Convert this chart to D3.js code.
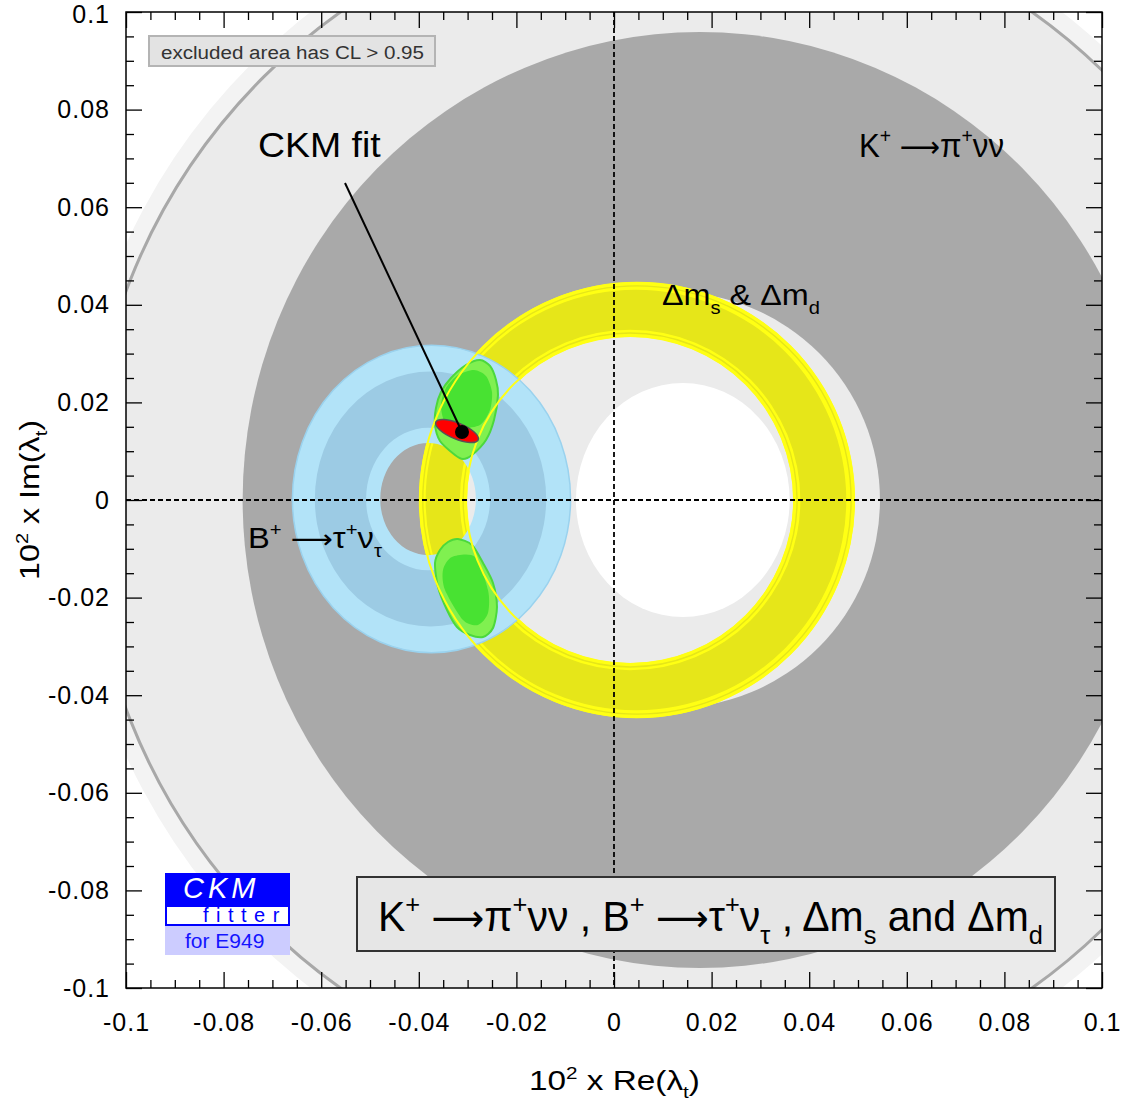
<!DOCTYPE html>
<html><head><meta charset="utf-8">
<script src="https://cdn.jsdelivr.net/npm/d3@7"></script>
<style>
body{margin:0;background:#fff}
svg{display:block}
text{font-family:"Liberation Sans",Arial,Helvetica,sans-serif}
</style>
</head><body>
<svg id="chart" width="1127" height="1106"></svg>
<script>
// ---------------- data (units: 10^2 x lambda_t) ----------------
const majorTicks = [-0.1,-0.08,-0.06,-0.04,-0.02,0,0.02,0.04,0.06,0.08,0.1];
const xTickLabels = ["-0.1","-0.08","-0.06","-0.04","-0.02","0","0.02","0.04","0.06","0.08","0.1"];
const yTickLabels = ["-0.1","-0.08","-0.06","-0.04","-0.02","0","0.02","0.04","0.06","0.08","0.1"];
const minorStep = 0.005;

// K+ -> pi+ nu nu : [Re centre, Im centre, rx, ry]
const kFaintBand   = [0.0148, 0, 0.1262, 0.1262];
const kContour     = [0.0148, 0, 0.1225, 0.1225];
const kAllowed     = [0.0176, 0, 0.0937, 0.0959];
const kInnerHole   = [0.0119, 0, 0.0426, 0.0426];
const kExcluded    = [0.0141, 0, 0.0219, 0.0240];

// Delta m_s & Delta m_d ring : [Re centre, Im centre, r]
const dmOuter95 = [0.0047, 0, 0.0447];
const dmInner95 = [0.0033, 0, 0.0334];
const dmOuter68 = [0.0045, 0, 0.0431];
const dmInner68 = [0.0033, 0, 0.0349];

// B+ -> tau+ nu_tau : [Re centre, Im centre, rx, ry]
const btnOuter     = [-0.0374, 0.0002, 0.0285, 0.0315];
const btnCoreOuter = [-0.0376, 0.0002, 0.0237, 0.0261];
const btnCoreInner = [-0.0381, 0.0002, 0.0127, 0.0146];
const btnHole      = [-0.0381, 0.0002, 0.0098, 0.0115];

// global fit regions [Re, Im]
const fitUpper95 = [[-0.02746,0.02869],[-0.02541,0.02746],[-0.02418,0.02459],[-0.02377,0.02152],[-0.02459,0.01639],[-0.02623,0.01230],[-0.02910,0.00922],[-0.03094,0.00840],[-0.03258,0.00922],[-0.03566,0.01209],[-0.03668,0.01537],[-0.03648,0.01885],[-0.03545,0.02213],[-0.03340,0.02500],[-0.03033,0.02766]];
const fitUpper68 = [[-0.02869,0.02664],[-0.02623,0.02541],[-0.02500,0.02213],[-0.02541,0.01844],[-0.02746,0.01537],[-0.03156,0.01475],[-0.03463,0.01598],[-0.03545,0.01947],[-0.03443,0.02295],[-0.03197,0.02561]];
const fitLower95 = [[-0.03197,-0.00799],[-0.02910,-0.00922],[-0.02684,-0.01291],[-0.02480,-0.01701],[-0.02398,-0.02193],[-0.02480,-0.02623],[-0.02684,-0.02807],[-0.02951,-0.02766],[-0.03217,-0.02602],[-0.03422,-0.02254],[-0.03607,-0.01783],[-0.03668,-0.01291],[-0.03566,-0.01025],[-0.03402,-0.00861]];
const fitLower68 = [[-0.03320,-0.01168],[-0.02848,-0.01168],[-0.02582,-0.01844],[-0.02582,-0.02316],[-0.02787,-0.02561],[-0.03094,-0.02459],[-0.03463,-0.01844],[-0.03504,-0.01434]];

// CKM fit ellipse [Re, Im, semi-major, semi-minor, tilt deg] and best point
const ckmEllipse = [-0.03217, 0.01414, 0.00471, 0.00164, 22.7];
const ckmBest = [-0.03115, 0.01393];
const ckmLabelAnchor = [-0.05512, 0.06496];

// ---------------- drawing ----------------
const svg = d3.select("#chart");
const L = 126, R = 1102, T = 12, B = 988;
const x = d3.scaleLinear().domain([-0.1, 0.1]).range([L, R]);
const y = d3.scaleLinear().domain([-0.1, 0.1]).range([B, T]);
const sx = v => x(v) - x(0), sy = v => y(0) - y(v);

svg.append("defs").append("clipPath").attr("id","plot")
  .append("rect").attr("x",L).attr("y",T).attr("width",R-L).attr("height",B-T);

function ellPath(e) {
  const cx = x(e[0]), cy = y(e[1]), rx = sx(e[2]), ry = sy(e[3] === undefined ? e[2] : e[3]);
  return `M${cx+rx},${cy}A${rx},${ry} 0 1 0 ${cx-rx},${cy}A${rx},${ry} 0 1 0 ${cx+rx},${cy}Z`;
}
function circ(c) { return [c[0], c[1], c[2], c[2]]; }

const g = svg.append("g").attr("clip-path","url(#plot)");

// K+ -> pi+ nu nu
g.append("path").attr("d", ellPath(kFaintBand)).attr("fill", "#f3f3f3");
g.append("path").attr("d", ellPath(kContour)).attr("fill", "#ebebeb")
  .attr("stroke", "#a8a8a8").attr("stroke-width", 3);
g.append("path").attr("d", ellPath(kAllowed)).attr("fill", "#a9a9a9");
g.append("path").attr("d", ellPath(kInnerHole)).attr("fill", "#ebebeb");
g.append("path").attr("d", ellPath(kExcluded)).attr("fill", "#ffffff");

// Delta m ring fill
g.append("path").attr("d", ellPath(circ(dmOuter95)) + ellPath(circ(dmInner95)))
  .attr("fill-rule","evenodd").attr("fill", "#ffff14");
g.append("path").attr("d", ellPath(circ(dmOuter68)) + ellPath(circ(dmInner68)))
  .attr("fill-rule","evenodd").attr("fill", "#e6e619");
[[dmOuter95, -4], [dmInner95, 4]].forEach(([c, off]) => {
  g.append("circle").attr("cx", x(c[0])).attr("cy", y(c[1])).attr("r", sx(c[2]) + off)
    .attr("fill","none").attr("stroke","#e6e619").attr("stroke-width",1.4);
});

// B -> tau nu
g.append("path").attr("d", ellPath(btnOuter) + ellPath(btnHole))
  .attr("fill-rule","evenodd").attr("fill", "#b2e3f8");
g.append("path").attr("d", ellPath(btnOuter)).attr("fill","none")
  .attr("stroke","#9ad2ee").attr("stroke-width",1.5);
g.append("path").attr("d", ellPath(btnCoreOuter) + ellPath(btnCoreInner))
  .attr("fill-rule","evenodd").attr("fill", "#9ccbe4");

// global fit
const blob = d3.line().x(d => x(d[0])).y(d => y(d[1])).curve(d3.curveCardinalClosed.tension(0.2));
[fitUpper95, fitLower95].forEach(p => g.append("path").attr("d", blob(p))
  .attr("fill","#80f050").attr("stroke","#4cd83c").attr("stroke-width",2));
[fitUpper68, fitLower68].forEach(p => g.append("path").attr("d", blob(p))
  .attr("fill","#48e232"));

// Delta m contour lines (visible on top of other constraints)
[[dmOuter95, -1.2], [dmInner95, 1.2]].forEach(([c, off]) => {
  g.append("circle").attr("cx", x(c[0])).attr("cy", y(c[1])).attr("r", sx(c[2]) + off)
    .attr("fill","none").attr("stroke","#ffff14").attr("stroke-width",2);
});

// crosshair
g.append("line").attr("x1",x(0)).attr("x2",x(0)).attr("y1",T).attr("y2",B)
  .attr("stroke","#000").attr("stroke-width",1.8).attr("stroke-dasharray","5,3");
g.append("line").attr("x1",L).attr("x2",R).attr("y1",y(0)).attr("y2",y(0))
  .attr("stroke","#000").attr("stroke-width",1.8).attr("stroke-dasharray","5,3");

// CKM fit ellipse and pointer
g.append("ellipse").attr("cx", x(ckmEllipse[0])).attr("cy", y(ckmEllipse[1]))
  .attr("rx", sx(ckmEllipse[2])).attr("ry", sx(ckmEllipse[3]))
  .attr("transform", `rotate(${ckmEllipse[4]},${x(ckmEllipse[0])},${y(ckmEllipse[1])})`)
  .attr("fill","#ff0000").attr("stroke","#555").attr("stroke-width",1.5);
g.append("line").attr("x1", x(ckmLabelAnchor[0])).attr("y1", y(ckmLabelAnchor[1]))
  .attr("x2", x(ckmBest[0])).attr("y2", y(ckmBest[1])).attr("stroke","#000").attr("stroke-width",2);
g.append("circle").attr("cx", x(ckmBest[0])).attr("cy", y(ckmBest[1])).attr("r",7).attr("fill","#000");

// rich text helper
const ARROW = "\u27f6";
function rich(parent, px, py, size, parts, anchor) {
  const t = parent.append("text").attr("x",px).attr("y",py).attr("font-size",size)
    .attr("text-anchor", anchor || "start").attr("fill","#000");
  let cur = 0;
  parts.forEach(p => {
    const s = p[0], k = p[1];
    const target = k === "sup" ? -0.42*size : k === "sub" ? 0.3*size : 0;
    const ts = t.append("tspan").attr("dy", target - cur).text(s);
    if (k === "sup" || k === "sub") ts.attr("font-size", size*0.62);
    if (k === "arrow") ts.attr("font-family", '"DejaVu Sans",sans-serif').attr("font-size", size*0.9);
    cur = target;
  });
  return t;
}
// squeeze/stretch a text horizontally so that its ink spans [x0, x1]
function fitSpan(t, x0, x1) {
  const bb = t.node().getBBox();
  const s = (x1 - x0) / bb.width;
  t.attr("transform", `translate(${x0},0) scale(${s},1) translate(${-bb.x},0)`);
}

fitSpan(rich(svg, 258, 157, 35, [["CKM fit"]]), 258, 381);
fitSpan(rich(svg, 858, 157, 33, [["K"],["+","sup"],[" "],[ARROW,"arrow"],["\u03c0"],["+","sup"],["\u03bd\u03bd"]]), 859, 1004);
fitSpan(rich(svg, 662, 305, 30, [["\u0394m"],["s","sub"],[" & \u0394m"],["d","sub"]]), 662, 820);
fitSpan(rich(svg, 247, 548, 29, [["B"],["+","sup"],[" "],[ARROW,"arrow"],["\u03c4"],["+","sup"],["\u03bd"],["\u03c4","sub"]]), 248, 382);

// legend box
svg.append("rect").attr("x",149).attr("y",36).attr("width",286).attr("height",30)
  .attr("fill","#e3e3e3").attr("stroke","#b4b4b4").attr("stroke-width",2);
svg.append("text").attr("x",161).attr("y",59).attr("font-size",18).attr("fill","#333")
  .attr("textLength",263).attr("lengthAdjust","spacingAndGlyphs").text("excluded area has CL > 0.95");

// title box
svg.append("rect").attr("x",357).attr("y",877).attr("width",698).attr("height",74)
  .attr("fill","#e6e6e6").attr("stroke","#333").attr("stroke-width",2);
fitSpan(rich(svg, 377, 931, 42, [["K"],["+","sup"],[" "],[ARROW,"arrow"],["\u03c0"],["+","sup"],["\u03bd\u03bd , B"],["+","sup"],
  [" "],[ARROW,"arrow"],["\u03c4"],["+","sup"],["\u03bd"],["\u03c4","sub"],[" , \u0394m"],["s","sub"],[" and \u0394m"],["d","sub"]]), 378, 1043);

// CKMfitter logo
const logo = svg.append("g");
logo.append("rect").attr("x",165).attr("y",873).attr("width",125).attr("height",33).attr("fill","#0000ff");
logo.append("text").attr("x",183).attr("y",898).attr("font-size",29).attr("font-style","italic")
  .attr("letter-spacing",4).attr("fill","#fff").text("CKM");
logo.append("rect").attr("x",166).attr("y",906).attr("width",123).attr("height",19)
  .attr("fill","#fff").attr("stroke","#0000ff").attr("stroke-width",2);
logo.append("text").attr("x",203).attr("y",922).attr("font-size",20).attr("letter-spacing",7.5)
  .attr("fill","#0000ff").text("fitter");
logo.append("rect").attr("x",165).attr("y",926).attr("width",125).attr("height",29).attr("fill","#ccccff");
logo.append("text").attr("x",185).attr("y",948).attr("font-size",21).attr("fill","#1414ff").text("for E949");

// axes
const minorTicks = d3.range(-0.1, 0.1 + 1e-9, minorStep).filter(v => Math.abs(Math.round(v/0.02)*0.02 - v) > 1e-9);
function styleAxis(a) {
  a.select(".domain").remove();
  a.selectAll(".tick line").attr("stroke","#000").attr("stroke-width",1.3);
  a.selectAll("text").attr("font-family",'"Liberation Sans",Arial,sans-serif').attr("font-size",25)
    .attr("fill","#000").attr("letter-spacing",1);
}
svg.append("g").attr("transform",`translate(0,${B})`)
  .call(d3.axisBottom(x).tickValues(majorTicks).tickSize(-16).tickPadding(25).tickFormat((d,i)=>xTickLabels[i])).call(styleAxis);
svg.append("g").attr("transform",`translate(0,${B})`)
  .call(d3.axisBottom(x).tickValues(minorTicks).tickSize(-8).tickFormat("")).call(styleAxis);
svg.append("g").attr("transform",`translate(0,${T})`)
  .call(d3.axisTop(x).tickValues(majorTicks).tickSize(-16).tickFormat("")).call(styleAxis);
svg.append("g").attr("transform",`translate(0,${T})`)
  .call(d3.axisTop(x).tickValues(minorTicks).tickSize(-8).tickFormat("")).call(styleAxis);
const yAx = svg.append("g").attr("transform",`translate(${L},0)`)
  .call(d3.axisLeft(y).tickValues(majorTicks).tickSize(-16).tickPadding(16).tickFormat((d,i)=>yTickLabels[i])).call(styleAxis);
yAx.selectAll(".tick text").filter(d => d === 0.1).attr("dy","0.42em");
svg.append("g").attr("transform",`translate(${L},0)`)
  .call(d3.axisLeft(y).tickValues(minorTicks).tickSize(-8).tickFormat("")).call(styleAxis);
svg.append("g").attr("transform",`translate(${R},0)`)
  .call(d3.axisRight(y).tickValues(majorTicks).tickSize(-16).tickFormat("")).call(styleAxis);
svg.append("g").attr("transform",`translate(${R},0)`)
  .call(d3.axisRight(y).tickValues(minorTicks).tickSize(-8).tickFormat("")).call(styleAxis);

svg.append("rect").attr("x",L).attr("y",T).attr("width",R-L).attr("height",B-T)
  .attr("fill","none").attr("stroke","#000").attr("stroke-width",1.5);

// axis titles
fitSpan(rich(svg, 614, 1090, 27, [["10"],["2","sup"],[" x Re(\u03bb"],["t","sub"],[")"]], "middle"), 529, 700);
fitSpan(rich(svg.append("g").attr("transform","translate(39,500) rotate(-90)"), 0, 0, 27,
  [["10"],["2","sup"],[" x Im(\u03bb"],["t","sub"],[")"]], "middle"), -80, 80);
</script>
</body></html>
